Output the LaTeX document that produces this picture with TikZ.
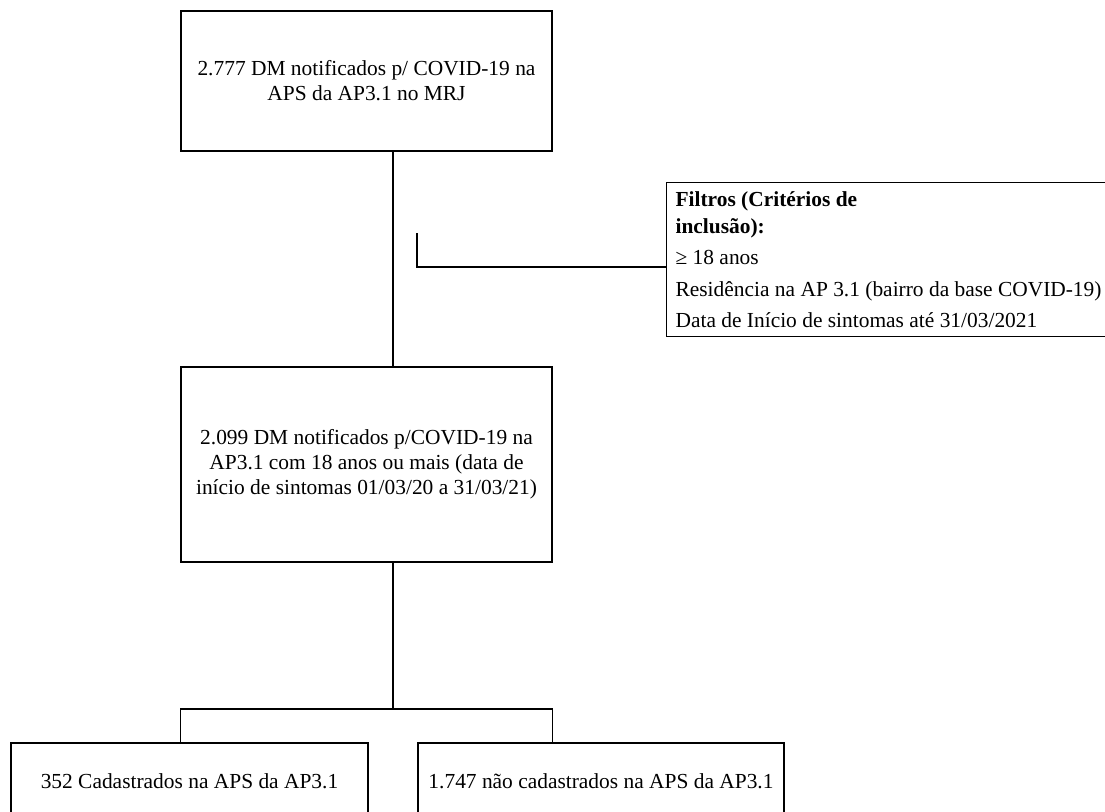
\documentclass[tikz,border=0pt]{standalone}
\usepackage{fontspec}
\setmainfont{Liberation Serif}
\usepackage{tikz}

\begin{document}
\begin{tikzpicture}[x=0.5602pt, y=-0.5602pt, line width=0.75pt,
    caixa/.style={draw, rectangle, inner sep=0pt, align=center,
      font=\fontsize{12pt}{13.9pt}\selectfont}]
  \useasboundingbox (0,0) rectangle (1105,811);
  \clip (0,0) rectangle (1105,811);

  % Caixas do fluxograma
  \node[caixa, minimum width=207.8pt, minimum height=78.4pt] (topo) at (366.5,81)
    {2.777 DM notificados p/ COVID-19 na\\APS da AP3.1 no MRJ};
  \node[caixa, minimum width=207.8pt, minimum height=109.2pt] (meio) at (366.5,464.5)
    {2.099 DM notificados p/COVID-19 na\\AP3.1 com 18 anos ou mais (data de\\início de sintomas 01/03/20 a 31/03/21)};
  \node[caixa, align=flush left, anchor=north west, inner xsep=5pt, text width=300pt,
      minimum height=86.3pt, font=\fontsize{12pt}{15.1pt}\selectfont] (filtros) at (666,182)
    {\textbf{Filtros (Critérios de}\\\textbf{inclusão):}\\[2.3pt]
     ≥ 18 anos\\[2.8pt]
     Residência na AP 3.1 (bairro da base COVID-19)\\[2.8pt]
     Data de Início de sintomas até 31/03/2021};
  \node[caixa, minimum width=200pt, minimum height=42.6pt] (esq) at (189.5,781)
    {352 Cadastrados na APS da AP3.1};
  \node[caixa, minimum width=205pt, minimum height=42.6pt] (dir) at (601,781)
    {1.747 não cadastrados na APS da AP3.1};

  % Ligacoes
  \coordinate (eixo) at (393,0);
  \coordinate (ramo) at (417,233);
  \coordinate (ramofim) at (417,267);
  \coordinate (divisao) at (393,709);
  \draw (topo.south -| eixo) -- (meio.north -| eixo);
  \draw (ramo) -- (ramofim) -- (ramofim -| filtros.west);
  \draw (meio.south -| divisao) -- (divisao);
  \draw (esq.north -| meio.west) |- (divisao) -| (dir.north -| meio.east);
\end{tikzpicture}
\end{document}
